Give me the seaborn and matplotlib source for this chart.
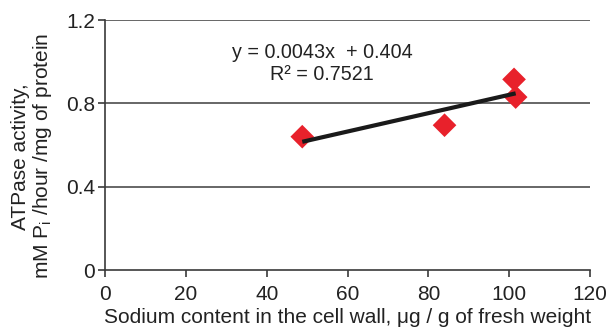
import numpy as np
import pandas as pd
import matplotlib.pyplot as plt
import seaborn as sns

# values
sodium = [48.8, 84.0, 101.2, 101.6]
atpase = [0.64, 0.695, 0.915, 0.83]
x_ticks = [0, 20, 40, 60, 80, 100, 120]
y_ticks = [0, 0.4, 0.8, 1.2]
y_tick_labels = ['0', '0.4', '0.8', '1.2']
equation = 'y = 0.0043x  + 0.404\nR\u00b2 = 0.7521'

data = pd.DataFrame({'Sodium': sodium, 'ATPase': atpase})

sns.set_style('white')
plt.rcParams['font.family'] = ['Liberation Sans', 'DejaVu Sans']

fig = plt.figure(figsize=(6.12, 3.34), dpi=100)
ax = fig.add_axes([0.1716, 0.1916, 0.7925, 0.7485])

sns.regplot(data=data, x='Sodium', y='ATPase', ax=ax, ci=None, truncate=True, marker='D',
            scatter_kws={'s': 145, 'color': '#e8212b', 'edgecolor': 'none', 'alpha': 1, 'zorder': 3},
            line_kws={'color': '#1a1a1a', 'lw': 3, 'zorder': 4, 'solid_capstyle': 'butt'})

ax.set_xlim(0, 120)
ax.set_ylim(0, 1.2)
ax.set_xticks(x_ticks)
ax.set_yticks(y_ticks)
ax.set_yticklabels(y_tick_labels)

for yv in y_ticks[1:]:
    ax.axhline(yv, color='#5a5a5a', lw=1.3, zorder=1)

for side in ['top', 'right']:
    ax.spines[side].set_visible(False)
for side in ['left', 'bottom']:
    ax.spines[side].set_color('#3a3a3a')
    ax.spines[side].set_linewidth(1.2)

ax.tick_params(axis='both', direction='out', length=5, width=1.2, color='#3a3a3a',
               labelsize=15, labelcolor='#222222', bottom=True, left=True, pad=2)
ax.tick_params(axis='x', pad=6)

ax.text(53.7, 0.99, equation, ha='center', va='center', multialignment='center',
        fontsize=14.2, color='#222222', linespacing=1.2)

ax.set_xlabel('Sodium content in the cell wall, \u03bcg / g of fresh weight', fontsize=15, color='#222222', labelpad=3)
ax.set_ylabel('ATPase activity,\nmM P$_\\mathregular{i}$ /hour /mg of protein', fontsize=15, color='#222222',
              linespacing=1.05)
ax.yaxis.set_label_coords(-0.106, 0.455)

fig.savefig('out.png', dpi=100)
